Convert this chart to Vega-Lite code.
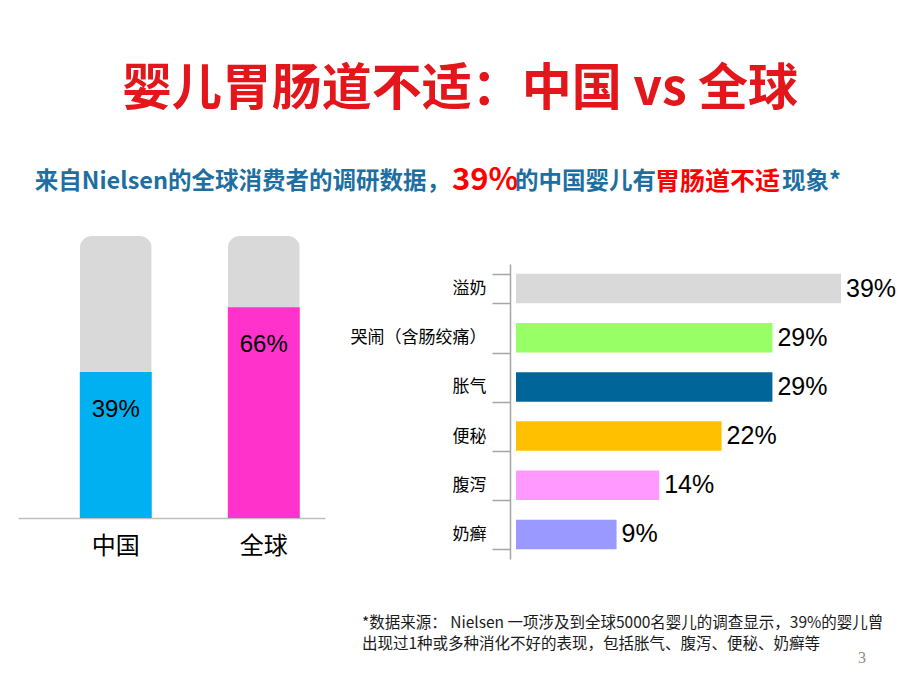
{
  "$schema": "https://vega.github.io/schema/vega-lite/v6.json",
  "background": "white",
  "padding": {"left": 18, "top": 65, "right": 0, "bottom": 0},
  "title": {
    "text": "婴儿胃肠道不适：中国 vs 全球",
    "fontSize": 50,
    "font": "Noto Sans CJK SC",
    "fontWeight": "bold",
    "color": "#e3161b",
    "anchor": "middle",
    "baseline": "top",
    "offset": 47
  },
  "config": {"view": {"stroke": null}, "font": "Noto Sans CJK SC"},
  "spacing": 31,
  "resolve": {"scale": {"color": "independent"}},
  "vconcat": [
    {
      "width": 884,
      "height": 21,
      "layer": [
        {
          "data": {"values": [{"t": "来自Nielsen的全球消费者的调研数据，"}]},
          "mark": {"type": "text", "align": "right", "baseline": "middle", "dx": -10, "dy": 9.5, "fontSize": 23.5, "fontWeight": "bold", "color": "#1e6fa0", "font": "Noto Sans CJK SC"},
          "encoding": {"text": {"field": "t"}}
        },
        {
          "data": {"values": [{"t": "39%"}]},
          "mark": {"type": "text", "align": "left", "baseline": "middle", "dx": -8, "dy": 8, "fontSize": 31, "fontWeight": "bold", "color": "#ff0000", "font": "Noto Sans CJK SC"},
          "encoding": {"text": {"field": "t"}}
        },
        {
          "data": {"values": [{"t": "的中国婴儿有"}]},
          "mark": {"type": "text", "align": "left", "baseline": "middle", "dx": 55, "dy": 9.5, "fontSize": 23.5, "fontWeight": "bold", "color": "#1e6fa0", "font": "Noto Sans CJK SC"},
          "encoding": {"text": {"field": "t"}}
        },
        {
          "data": {"values": [{"t": "胃肠道不适"}]},
          "mark": {"type": "text", "align": "left", "baseline": "middle", "dx": 195, "dy": 9.5, "fontSize": 25, "fontWeight": "bold", "color": "#ff0000", "font": "Noto Sans CJK SC"},
          "encoding": {"text": {"field": "t"}}
        },
        {
          "data": {"values": [{"t": "现象*"}]},
          "mark": {"type": "text", "align": "left", "baseline": "middle", "dx": 322, "dy": 9.5, "fontSize": 23.5, "fontWeight": "bold", "color": "#1e6fa0", "font": "Noto Sans CJK SC"},
          "encoding": {"text": {"field": "t"}}
        }
      ]
    },
    {
      "spacing": 25,
      "resolve": {"scale": {"color": "independent"}},
      "hconcat": [
        {
          "width": 307,
          "height": 282,
          "data": {"values": [
            {"region": "中国", "share": 0.39, "whole": 1},
            {"region": "全球", "share": 0.66, "whole": 1}
          ]},
          "encoding": {
            "x": {
              "field": "region", "type": "nominal", "sort": null,
              "scale": {"paddingInner": 0.514, "paddingOuter": 0.294, "align": 0.71},
              "axis": {"title": null, "labelAngle": 0, "labelFontSize": 24, "labelColor": "black", "labelFont": "Noto Sans CJK SC", "ticks": false, "labelPadding": 16, "domainColor": "#bfbfbf", "domainWidth": 1.5}
            }
          },
          "layer": [
            {
              "mark": {"type": "bar", "color": "#d9d9d9", "cornerRadiusTopLeft": 12, "cornerRadiusTopRight": 12},
              "encoding": {"y": {"field": "whole", "type": "quantitative", "scale": {"type": "pow", "exponent": 0.7, "domain": [0, 1], "nice": false}, "axis": null}}
            },
            {
              "mark": {"type": "bar"},
              "encoding": {
                "y": {"field": "share", "type": "quantitative", "axis": null},
                "color": {"field": "region", "type": "nominal", "scale": {"domain": ["中国", "全球"], "range": ["#00b0f0", "#ff33cc"]}, "legend": null}
              }
            },
            {
              "mark": {"type": "text", "baseline": "top", "dy": 26, "fontSize": 24, "font": "Liberation Sans", "color": "black"},
              "encoding": {
                "y": {"field": "share", "type": "quantitative", "axis": null},
                "text": {"field": "share", "type": "quantitative", "format": ".0%"}
              }
            }
          ]
        },
        {
          "width": 331,
          "height": 323,
          "data": {"values": [
            {"symptom": "溢奶", "share": 0.39},
            {"symptom": "哭闹（含肠绞痛）", "share": 0.29},
            {"symptom": "胀气", "share": 0.29},
            {"symptom": "便秘", "share": 0.22},
            {"symptom": "腹泻", "share": 0.14},
            {"symptom": "奶癣", "share": 0.09}
          ]},
          "encoding": {
            "y": {
              "field": "symptom", "type": "nominal", "sort": null,
              "scale": {"range": [28, 323], "paddingInner": 0.4, "paddingOuter": 0.2},
              "axis": {"title": null, "labelFontSize": 17, "labelColor": "black", "labelFont": "Noto Sans CJK SC", "tickBand": "extent", "tickSize": 18, "tickColor": "#a6a6a6", "tickWidth": 1.5, "domainColor": "#a6a6a6", "domainWidth": 1.5, "labelPadding": 6}
            },
            "x": {
              "field": "share", "type": "quantitative",
              "scale": {"type": "pow", "exponent": 0.8, "domain": [0, 0.39], "range": [6, 331], "nice": false},
              "axis": null
            }
          },
          "layer": [
            {
              "mark": {"type": "bar"},
              "encoding": {
                "color": {"field": "symptom", "type": "nominal", "scale": {"domain": ["溢奶", "哭闹（含肠绞痛）", "胀气", "便秘", "腹泻", "奶癣"], "range": ["#d9d9d9", "#99ff66", "#006699", "#ffc000", "#ff99ff", "#9999ff"]}, "legend": null}
              }
            },
            {
              "mark": {"type": "text", "align": "left", "baseline": "middle", "dx": 5, "fontSize": 25, "font": "Liberation Sans", "color": "black"},
              "encoding": {"text": {"field": "share", "type": "quantitative", "format": ".0%"}}
            }
          ]
        }
      ]
    },
    {
      "width": 884,
      "height": 60,
      "layer": [
        {
          "data": {"values": [{"t": "*数据来源： Nielsen 一项涉及到全球5000名婴儿的调查显示，39%的婴儿曾\n出现过1种或多种消化不好的表现，包括胀气、腹泻、便秘、奶癣等"}]},
          "mark": {"type": "text", "align": "left", "baseline": "top", "lineBreak": "\n", "lineHeight": 21, "dx": -98, "dy": -4, "fontSize": 15.5, "font": "Noto Sans CJK SC", "color": "#1a1a1a"},
          "encoding": {"text": {"field": "t"}}
        },
        {
          "data": {"values": [{"page": "3"}]},
          "mark": {"type": "text", "align": "center", "baseline": "middle", "dx": 402, "dy": 38, "fontSize": 16, "font": "Liberation Serif", "color": "#8c8c8c"},
          "encoding": {"text": {"field": "page"}}
        }
      ]
    }
  ]
}
